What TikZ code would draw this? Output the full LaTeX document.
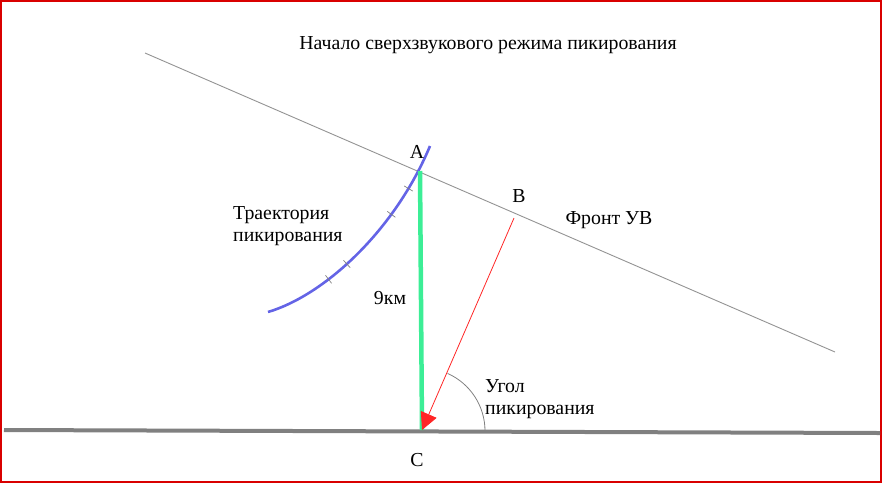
\documentclass[tikz,border=0pt]{standalone}
\usepackage{fontspec}
\setmainfont{Liberation Serif}
\usetikzlibrary{arrows.meta,decorations.markings}

\begin{document}
\begin{tikzpicture}[x=1pt, y=-1pt,
  every node/.style = {font=\fontsize{19.8}{22}\selectfont, inner sep=0pt},
  frontline/.style = {draw=gray!85, line width=0.9pt},
  ground/.style = {draw=gray, line width=4pt},
  dive/.style = {draw={rgb,255:red,100;green,100;blue,230}, line width=2.6pt,
    postaction={decorate}},
  height/.style = {draw={rgb,255:red,60;green,238;blue,150}, line width=4.5pt},
  wave/.style = {draw=red!85!white, line width=0.8pt,
    -{Triangle[length=17pt, width=17pt, fill=red!85!white]}},
  divetick/.style = {decoration={markings,
    mark=at position 0.29 with {\draw[gray, line width=0.7pt] (0,-5) -- (0,5);},
    mark=at position 0.39 with {\draw[gray, line width=0.7pt] (0,-5) -- (0,5);},
    mark=at position 0.67 with {\draw[gray, line width=0.7pt] (0,-5) -- (0,5);},
    mark=at position 0.80 with {\draw[gray, line width=0.7pt] (0,-5) -- (0,5);}}}]
  \useasboundingbox (0,0) rectangle (882,483);
  \draw[red!85!black, line width=2pt] (1,1) rectangle (881,482);

  % points
  \coordinate (A) at (420,171);
  \coordinate (Bf) at (514,218);
  \coordinate (C) at (422,430);
  \coordinate (frontL) at (145,53);
  \coordinate (frontR) at (835,352);
  \coordinate (groundL) at (4,430);
  \coordinate (groundR) at (880,433);
  \coordinate (diveS) at (268,312);
  \coordinate (diveE) at (430,146);
  \coordinate (angS) at (485,431);

  % lines
  \draw[frontline] (frontL) -- (frontR);
  \draw[ground] (groundL) -- (groundR);
  \draw[dive, divetick] (diveS) .. controls (325,295) and (395,230) .. (diveE);
  \draw[height] (A) -- (C);
  \draw[wave] (Bf) -- (C);
  \draw[gray, line width=0.8pt] (angS) arc[start angle=0, end angle=-66, radius=63];

  % labels
  \node (title) at (488,45) {Начало сверхзвукового режима пикирования};
  \node (lblA) at (417,152) {A};
  \node (lblB) at (519,196) {B};
  \node (lblC) at (417,460) {C};
  \node (front) at (609,220) {Фронт УВ};
  \node[anchor=west, align=left] (traj) at (233,226) {Траектория\\пикирования};
  \node (km) at (390,298) {9км};
  \node[anchor=west, align=left] (angle) at (485,399) {Угол\\пикирования};
\end{tikzpicture}
\end{document}
